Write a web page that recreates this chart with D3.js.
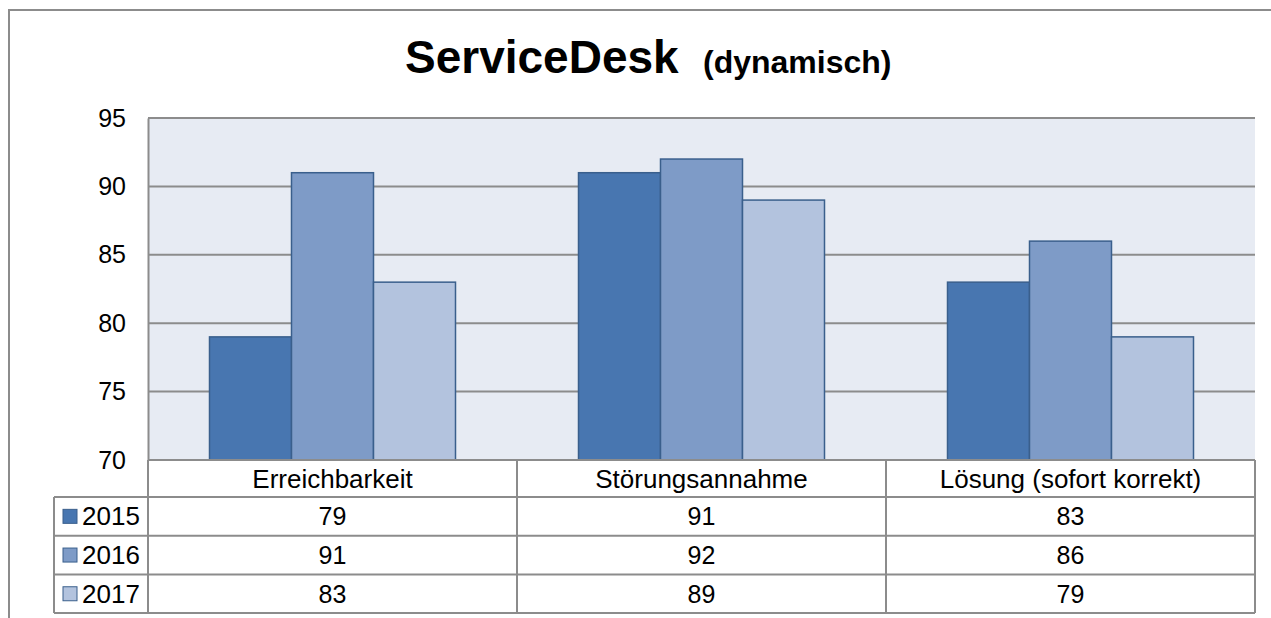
<!DOCTYPE html>
<html>
<head>
<meta charset="utf-8">
<script src="https://cdn.jsdelivr.net/npm/d3@7"></script>
<style>
  html, body { margin: 0; padding: 0; background: #fff; }
  svg { display: block; font-family: Arial, "Liberation Sans", sans-serif; }
</style>
</head>
<body>
<svg id="chart" width="1271" height="618"></svg>
<script>
// categories and series
var categories = ["Erreichbarkeit", "Störungsannahme", "Lösung (sofort korrekt)"];
var years = ["2015", "2016", "2017"];
var values2015 = [79, 91, 83];
var values2016 = [91, 92, 86];
var values2017 = [83, 89, 79];
var yTicks = [70, 75, 80, 85, 90, 95];

var series = [
  { year: years[0], values: values2015, fill: "#4876b0" },
  { year: years[1], values: values2016, fill: "#7e9bc7" },
  { year: years[2], values: values2017, fill: "#b3c3de" }
];

var svg = d3.select("#chart");
var gridColor = "#8c8c8c";

// 外框
svg.append("path")
  .attr("d", "M9,618 V10 H1271")
  .attr("fill", "none")
  .attr("stroke", gridColor)
  .attr("stroke-width", 2);

// title
svg.append("text")
  .attr("x", 405).attr("y", 73)
  .attr("font-weight", "bold")
  .attr("font-size", 46)
  .text("ServiceDesk");
svg.append("text")
  .attr("x", 703).attr("y", 73)
  .attr("font-weight", "bold")
  .attr("font-size", 32)
  .text("(dynamisch)");

var plot = { left: 148, right: 1255, top: 118, bottom: 460 };

var x = d3.scaleBand().domain(categories).range([plot.left, plot.right]);
var bw = x.bandwidth();
var xs = d3.scaleBand().domain(years).range([bw / 6, bw * 5 / 6]);
var y = d3.scaleLinear().domain([70, 95]).range([plot.bottom, plot.top]);

// plot background
svg.append("rect")
  .attr("x", plot.left).attr("y", plot.top)
  .attr("width", plot.right - plot.left).attr("height", plot.bottom - plot.top)
  .attr("fill", "#e7ebf3");

// gridlines
svg.append("g")
  .selectAll("line")
  .data(yTicks.filter(function(d) { return d > 70; }))
  .join("line")
  .attr("x1", plot.left).attr("x2", plot.right)
  .attr("y1", function(d) { return y(d); })
  .attr("y2", function(d) { return y(d); })
  .attr("stroke", gridColor)
  .attr("stroke-width", 2);

// y axis labels
var yAxis = svg.append("g")
  .attr("transform", "translate(" + plot.left + ",0)")
  .call(d3.axisLeft(y).tickValues(yTicks).tickSize(0).tickPadding(22));
yAxis.select(".domain").attr("stroke", gridColor).attr("stroke-width", 2);
yAxis.selectAll("text")
  .attr("font-size", 25)
  .attr("font-family", "Arial, 'Liberation Sans', sans-serif")
  .attr("fill", "#000");

// bars
series.forEach(function(s) {
  svg.append("g")
    .selectAll("rect")
    .data(s.values)
    .join("rect")
    .attr("x", function(d, i) { return x(categories[i]) + xs(s.year); })
    .attr("y", function(d) { return y(d); })
    .attr("width", xs.bandwidth())
    .attr("height", function(d) { return y(70) - y(d); })
    .attr("fill", s.fill)
    .attr("stroke", "#3a5f8c")
    .attr("stroke-width", 1.5);
});

// data table
var table = { left: 54, headerBottom: 497, rowH: 38.7 };
var rowY = function(i) { return table.headerBottom + i * table.rowH; };
var tableBottom = rowY(series.length);

var tg = svg.append("g").attr("stroke", gridColor).attr("stroke-width", 2);
// horizontal lines
tg.append("line").attr("x1", plot.left).attr("x2", plot.right).attr("y1", plot.bottom).attr("y2", plot.bottom);
d3.range(series.length + 1).forEach(function(i) {
  tg.append("line").attr("x1", table.left).attr("x2", plot.right)
    .attr("y1", rowY(i)).attr("y2", rowY(i));
});
// vertical lines
tg.append("line").attr("x1", table.left).attr("x2", table.left).attr("y1", table.headerBottom).attr("y2", tableBottom);
categories.forEach(function(c) {
  tg.append("line").attr("x1", x(c)).attr("x2", x(c)).attr("y1", plot.bottom).attr("y2", tableBottom);
});
tg.append("line").attr("x1", plot.right).attr("x2", plot.right).attr("y1", plot.bottom).attr("y2", tableBottom);

// header labels
svg.append("g")
  .selectAll("text")
  .data(categories)
  .join("text")
  .attr("x", function(d) { return x(d) + bw / 2; })
  .attr("y", 488)
  .attr("text-anchor", "middle")
  .attr("font-size", 26)
  .text(function(d) { return d; });

// rows
series.forEach(function(s, r) {
  var cy = rowY(r) + table.rowH / 2 + 9;
  svg.append("rect")
    .attr("x", 63).attr("y", rowY(r) + table.rowH / 2 - 7)
    .attr("width", 14).attr("height", 14)
    .attr("fill", s.fill)
    .attr("stroke", "#3a5f8c")
    .attr("stroke-width", 1);
  svg.append("text")
    .attr("x", 82).attr("y", cy)
    .attr("font-size", 26)
    .text(s.year);
  svg.append("g")
    .selectAll("text")
    .data(s.values)
    .join("text")
    .attr("x", function(d, i) { return x(categories[i]) + bw / 2; })
    .attr("y", cy)
    .attr("text-anchor", "middle")
    .attr("font-size", 25)
    .text(function(d) { return d; });
});
</script>
</body>
</html>
